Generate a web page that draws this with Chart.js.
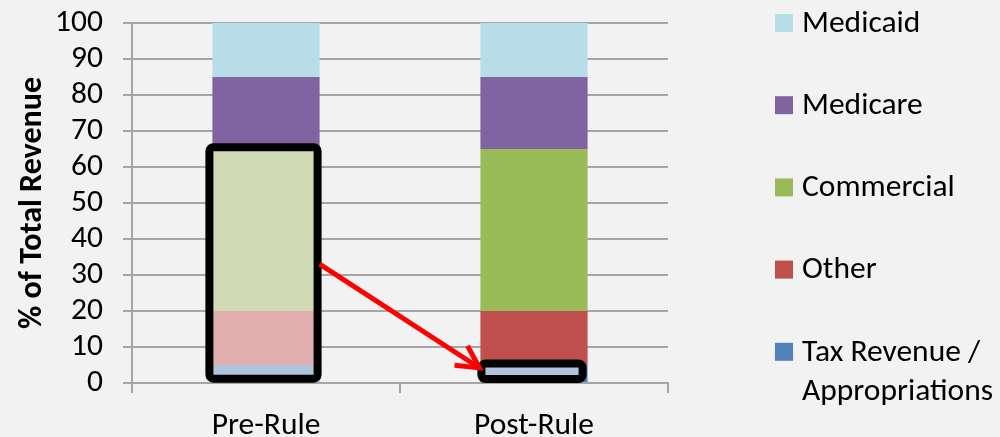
<!DOCTYPE html>
<html>
<head>
<meta charset="utf-8">
<script src="https://cdn.jsdelivr.net/npm/chart.js@4.4.1/dist/chart.umd.min.js"></script>
<style>
  html, body { margin: 0; padding: 0; background: #f2f2f2; overflow: hidden; }
  #wrap { width: 1000px; height: 448px; position: relative; }
</style>
</head>
<body>
<div id="wrap"><canvas id="revChart"></canvas></div>
<script>
var categories = ['Pre-Rule', 'Post-Rule'];
var taxRevenue = [5, 5];
var other = [15, 15];
var commercial = [45, 45];
var medicare = [20, 20];
var medicaid = [15, 15];
var yTicks = [0, 10, 20, 30, 40, 50, 60, 70, 80, 90, 100];

var FONT = "Carlito, Calibri, Lato, sans-serif";

// legend entries, drawn top to bottom
var legendItems = [
    { text: ['Medicaid'], color: '#b7dee8' },
    { text: ['Medicare'], color: '#8064a2' },
    { text: ['Commercial'], color: '#9bbb59' },
    { text: ['Other'], color: '#c0504d' },
    { text: ['Tax Revenue /', 'Appropriations'], color: '#4f81bd' }
];

var sideLegend = {
    id: 'sideLegend',
    afterDraw: function(chart) {
        var ctx = chart.ctx;
        var area = chart.chartArea;
        var x = area.right + 107;
        ctx.save();
        ctx.font = '31.5px ' + FONT;
        ctx.textBaseline = 'middle';
        ctx.fillStyle = '#000';
        legendItems.forEach(function(item, i) {
            var cy = area.top + i * 82.2;
            ctx.fillStyle = item.color;
            ctx.fillRect(x, cy - 9, 18, 18);
            ctx.fillStyle = '#000';
            item.text.forEach(function(line, j) {
                ctx.fillText(line, x + 27, cy + 1 + j * 39);
            });
        });
        ctx.restore();
    }
};

var highlights = {
    id: 'highlights',
    afterDatasetsDraw: function(chart) {
        var ctx = chart.ctx;
        var y = chart.scales.y;
        var meta = chart.getDatasetMeta(0);
        var pre = meta.data[0], post = meta.data[1];
        var pl = pre.x - pre.width / 2, pr = pre.x + pre.width / 2;
        var ql = post.x - post.width / 2, qr = post.x + post.width / 2;
        ctx.save();
        ctx.lineWidth = 8;
        ctx.strokeStyle = '#000';
        ctx.lineJoin = 'round';

        // box round the faded part of Pre-Rule
        ctx.beginPath();
        ctx.roundRect(pl - 3, y.getPixelForValue(65.5), pr - pl + 1, y.getPixelForValue(1.2) - y.getPixelForValue(65.5), 4);
        ctx.stroke();

        // box round Post-Rule tax revenue
        ctx.beginPath();
        ctx.roundRect(ql + 1, y.getPixelForValue(5.4), qr - ql - 6, y.getPixelForValue(1.1) - y.getPixelForValue(5.4), 4);
        ctx.fillStyle = '#adc3de';
        ctx.fill();
        ctx.stroke();

        // red arrow
        var x0 = pr, y0 = y.getPixelForValue(33);
        var x1 = ql - 1, y1 = y.getPixelForValue(4.2);
        var ang = Math.atan2(y1 - y0, x1 - x0);
        ctx.strokeStyle = '#ff0000';
        ctx.lineWidth = 5;
        ctx.lineJoin = 'miter';
        ctx.beginPath();
        ctx.moveTo(x0, y0);
        ctx.lineTo(x1 - 3 * Math.cos(ang), y1 - 3 * Math.sin(ang));
        ctx.stroke();
        ctx.beginPath();
        ctx.moveTo(x1 - 25 * Math.cos(ang - 0.47), y1 - 25 * Math.sin(ang - 0.47));
        ctx.lineTo(x1, y1);
        ctx.lineTo(x1 - 25 * Math.cos(ang + 0.5), y1 - 25 * Math.sin(ang + 0.5));
        ctx.stroke();
        ctx.restore();
    }
};

var ctx = document.getElementById('revChart').getContext('2d');
var revChart = new Chart(ctx, {
    type: 'bar',
    data: {
        labels: categories,
        datasets: [
            { label: 'Tax Revenue / Appropriations', data: taxRevenue, backgroundColor: ['#b0c4de', '#4f81bd'] },
            { label: 'Other', data: other, backgroundColor: ['#dfaead', '#c0504d'] },
            { label: 'Commercial', data: commercial, backgroundColor: ['#d0dbb5', '#9bbb59'] },
            { label: 'Medicare', data: medicare, backgroundColor: ['#8064a2', '#8064a2'] },
            { label: 'Medicaid', data: medicaid, backgroundColor: ['#b7dee8', '#b7dee8'] }
        ]
    },
    options: {
        responsive: true,
        maintainAspectRatio: false,
        animation: false,
        datasets: {
            bar: { categoryPercentage: 0.8, barPercentage: 0.5, borderWidth: 0 }
        },
        layout: { padding: { top: 23, right: 332, left: 0, bottom: 0 } },
        scales: {
            x: {
                stacked: true,
                afterFit: function(s) {
                    s.height = 65;
                    s.paddingLeft = 0;
                    s.paddingRight = 0;
                },
                grid: { drawOnChartArea: false, offset: true, tickLength: 10, color: '#a5a5a5', lineWidth: 2 },
                border: { color: '#a5a5a5', width: 2 },
                ticks: { color: '#000', padding: 14, font: { family: FONT, size: 31.5 } }
            },
            y: {
                stacked: true,
                min: 0,
                max: 100,
                afterFit: function(s) {
                    s.width = 132;
                    s.paddingTop = 0;
                    s.paddingBottom = 0;
                },
                afterBuildTicks: function(s) {
                    s.ticks = yTicks.map(function(v) { return { value: v }; });
                },
                grid: { color: '#a5a5a5', lineWidth: 2, tickLength: 9 },
                border: { color: '#a5a5a5', width: 2 },
                ticks: { color: '#000', padding: 20, autoSkip: false, font: { family: FONT, size: 31.5 } },
                title: {
                    display: true,
                    text: '% of Total Revenue',
                    color: '#000',
                    padding: { top: 14, bottom: 0 },
                    font: { family: FONT, size: 32, weight: 'bold' }
                }
            }
        },
        plugins: {
            legend: { display: false },
            tooltip: { enabled: false }
        }
    },
    plugins: [highlights, sideLegend]
});
</script>
</body>
</html>
